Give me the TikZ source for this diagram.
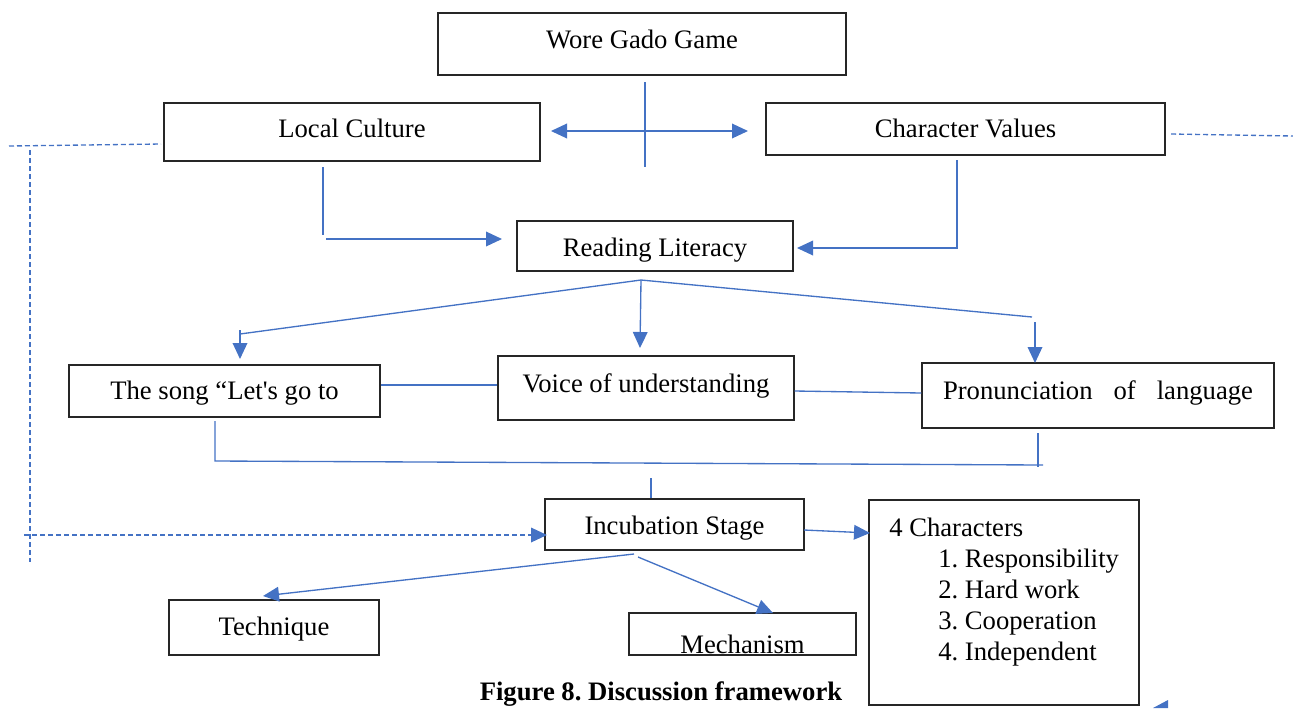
\documentclass[tikz,border=0pt]{standalone}
\usepackage{fontspec}
\setmainfont{Liberation Serif}
\usetikzlibrary{arrows.meta}
\definecolor{lineblue}{HTML}{4472C4}
\frenchspacing
\newcommand\boxnode[7][]{\node[box,#1,minimum width={(#5-#3)*0.75pt},minimum height={(#6-#4)*0.75pt}] (#2) at ({(#3+#5)/2},{(#4+#6)/2}) {#7};}
\begin{document}
\begin{tikzpicture}[x=0.75pt,y=-0.75pt,
  box/.style={draw=black!85,line width=1.1pt,inner sep=0pt,text height=15pt,text depth=5pt,font=\fontsize{20}{24}\selectfont},
  txt/.style={inner sep=0pt,font=\fontsize{20}{23.25}\selectfont},
  conn/.style={draw=lineblue,line width=1pt},
  tip/.style={-{Triangle[length=12pt,width=11pt]}},
  arr/.style={conn,tip},
  dashconn/.style={conn,dash pattern=on 3.75pt off 2.25pt}]
\useasboundingbox (0,0) rectangle (1293,708);

% boxes
\boxnode{wore}{438}{13}{846}{75}{\raisebox{1.5pt}{Wore Gado Game}}
\boxnode{lc}{164}{103}{540}{161}{\raisebox{0.75pt}{Local Culture}}
\boxnode{cv}{766}{103}{1165}{155}{\raisebox{-1.5pt}{Character Values}}
\boxnode{rl}{517}{221}{793}{271}{\raisebox{-3pt}{Reading Literacy}}
\boxnode{song}{69}{365}{380}{417}{\raisebox{-1.5pt}{The song “Let\textquotesingle s go to}}
\boxnode{voice}{498}{356}{794}{420}{\raisebox{1.5pt}{Voice of understanding}}
\boxnode{pron}{922}{363}{1274}{428}{\raisebox{1.9pt}{\makebox[232.5pt][s]{Pronunciation of language}}}
\boxnode{inc}{545}{499}{804}{550}{\raisebox{-2.6pt}{Incubation Stage}}
\boxnode{chars}{869}{500}{1139}{705}{}
\boxnode{tech}{169}{600}{379}{655}{\raisebox{-1.1pt}{Technique}}
\boxnode[path picture={\node[txt,anchor=base] (mechtext) at ([yshift=1pt]path picture bounding box.south) {Mechanism};}]{mech}{629}{613}{856}{655}{}

\node[txt,anchor=north west,align=left] (charlist) at (889,518)
  {4 Characters\\
   \hspace*{36.75pt}1. Responsibility\\
   \hspace*{36.75pt}2. Hard work\\
   \hspace*{36.75pt}3. Cooperation\\
   \hspace*{36.75pt}4. Independent};

\node[inner sep=0pt,font=\bfseries\fontsize{20}{24}\selectfont] (caption) at (661,694) {Figure 8. Discussion framework};

% coordinates for free ends
\coordinate (vt) at (645,82);
\coordinate (vb) at (645,167);
\coordinate (dl) at (551,131);
\coordinate (dr) at (748,131);
\coordinate (lc1) at (323,167);
\coordinate (lc2) at (323,235);
\coordinate (lc3) at (326,239);
\coordinate (lc4) at (502,239);
\coordinate (cv1) at (957,160);
\coordinate (cv2) at (957,248);
\coordinate (cv3) at (797,248);
\coordinate (f0) at (641,280);
\coordinate (fl1) at (240,334);
\coordinate (fl2) at (240,330);
\coordinate (fl3) at (240,359);
\coordinate (fm) at (640,348);
\coordinate (fr1) at (1032,317);
\coordinate (fr2) at (1035,322);
\coordinate (fr3) at (1035,363);
\coordinate (b1) at (215,421);
\coordinate (b2) at (215,461);
\coordinate (b3) at (1043,465);
\coordinate (b4) at (1038,433);
\coordinate (b5) at (1038,467);
\coordinate (s1) at (651,478);
\coordinate (s2) at (651,498);
\coordinate (d1) at (9,146);
\coordinate (d2) at (161,144);
\coordinate (d3) at (30,150);
\coordinate (d4) at (30,562);
\coordinate (d5) at (24,535);
\coordinate (d6) at (547,535);
\coordinate (r1) at (1171,134);
\coordinate (r2) at (1293,136);
\coordinate (i1) at (804,530);
\coordinate (i2) at (870,533);
\coordinate (t1) at (634,554);
\coordinate (t2) at (263,596);
\coordinate (m1) at (638,557);
\coordinate (m2) at (773,613);

% connectors
\draw[conn] (vt) -- (vb);
\draw[conn,{Triangle[length=12pt,width=11pt]}-{Triangle[length=12pt,width=11pt]}] (dl) -- (dr);
\draw[conn] (lc1) -- (lc2);
\draw[arr] (lc3) -- (lc4);
\draw[arr] (cv1) -- (cv2) -- (cv3);
\draw[conn] (f0) -- (fl1);
\draw[arr] (fl2) -- (fl3);
\draw[arr] (f0) -- (fm);
\draw[conn] (f0) -- (fr1);
\draw[arr] (fr2) -- (fr3);
\draw[conn] (song.east |- 0,385) -- (voice.west |- 0,385);
\draw[conn] (voice.east |- 0,391) -- (pron.west |- 0,393);
\draw[conn] (b1) -- (b2) -- (b3);
\draw[conn] (b4) -- (b5);
\draw[conn] (s1) -- (s2);
\draw[dashconn] (d1) -- (d2);
\draw[dashconn] (d3) -- (d4);
\draw[dashconn,tip] (d5) -- (d6);
\draw[dashconn] (r1) -- (r2);
\draw[arr] (i1) -- (i2);
\draw[arr] (t1) -- (t2);
\draw[arr] (m1) -- (m2);
\fill[lineblue] (1153,708) -- (1168,700) -- (1168,708) -- cycle;
\end{tikzpicture}
\end{document}
